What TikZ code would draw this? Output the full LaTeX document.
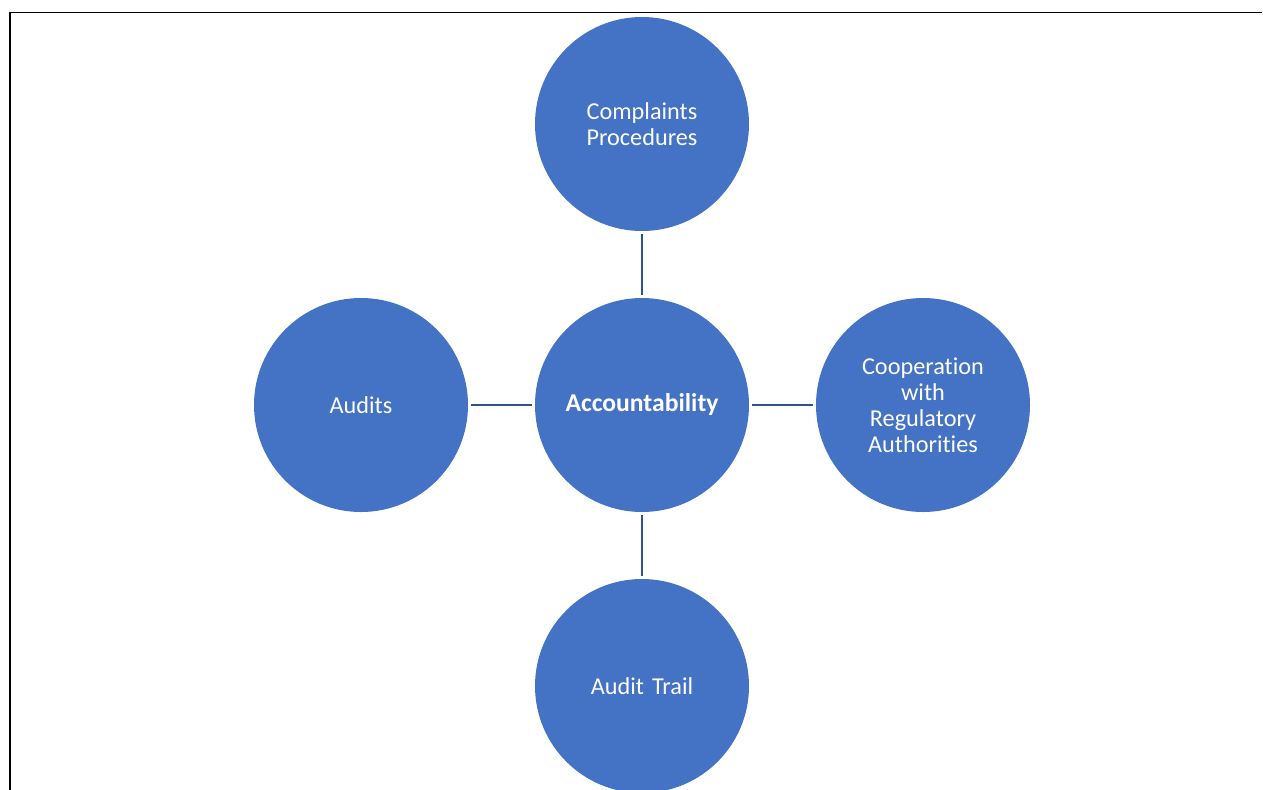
\documentclass[tikz,border=0pt]{standalone}
\usepackage{fontspec}
\setmainfont[Ligatures=NoCommon]{Carlito}
\usetikzlibrary{positioning}
\definecolor{hubblue}{RGB}{68,114,196}
\definecolor{linkblue}{RGB}{47,82,143}
\tikzset{
    topic/.style={circle, fill=hubblue, draw=none, text=white,
                  minimum size=4.28cm, inner sep=0pt, outer sep=0pt,
                  align=center, text width=3.6cm,
                  font=\fontsize{13.8}{14.8}\selectfont},
    hub/.style={topic, font=\fontsize{14.6}{14.8}\selectfont\bfseries},
    link/.style={draw=linkblue, line width=1.6pt,
                 shorten <=0.06cm, shorten >=0.06cm},
}

\begin{document}
\begin{tikzpicture}[
        node distance=1.34cm
    ]
        \useasboundingbox (0,0) rectangle (25.26,-15.78);
        \clip (0,0) rectangle (25.26,-15.78);
        % page frame, open to the right and bottom
        \draw[line width=1.1pt] (25.24,-0.25) -- (0.2,-0.25) -- (0.2,-16);

        \node[hub] (acc) at (12.84,-8.10) {Accountability};
        \node[topic, above=of acc] (complaints)
            {Complaints\\Procedures};
        \node[topic, right=of acc] (regulators)
            {Cooperation\\with\\Regulatory\\Authorities};
        \node[topic, below=of acc] (trail)
            {Audit Trail};
        \node[topic, left=of acc] (audits)
            {Audits};

        \draw[link] (complaints.south) -- (acc.north);
        \draw[link] (acc.east) -- (regulators.west);
        \draw[link] (acc.south) -- (trail.north);
        \draw[link] (audits.east) -- (acc.west);
    \end{tikzpicture}
\end{document}
